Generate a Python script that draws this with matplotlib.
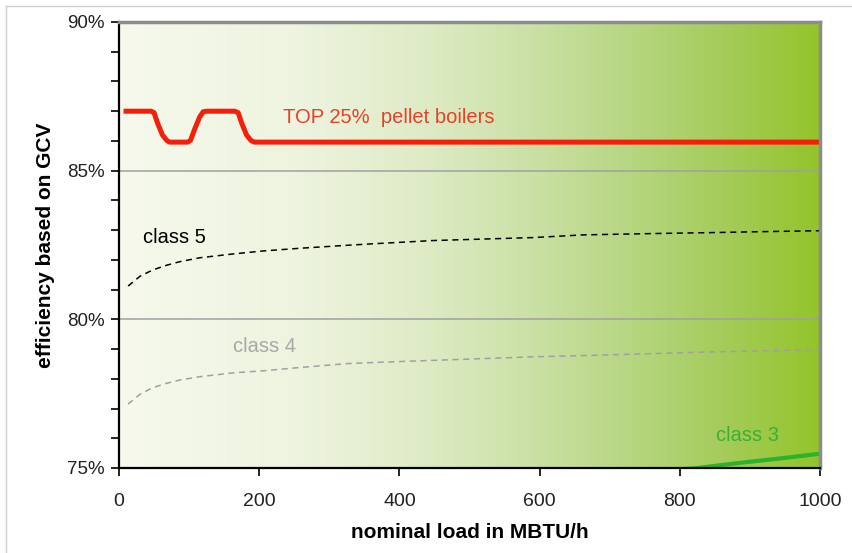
import numpy as np
import matplotlib
matplotlib.use("Agg")
import matplotlib.pyplot as plt
from matplotlib.colors import LinearSegmentedColormap
from matplotlib.lines import Line2D
from matplotlib.ticker import MultipleLocator, FuncFormatter

plt.rcParams['font.family'] = ['Liberation Sans', 'DejaVu Sans']

# ---- data ----
top_x = [10, 46, 50, 55, 62, 68, 72, 98, 102, 108, 115, 120, 125, 165, 170, 175, 182, 188, 193, 1000]
top_y = [87.0, 87.0, 86.95, 86.6, 86.2, 86.02, 85.96, 85.96, 86.02, 86.4, 86.8, 86.98, 87.0, 87.0, 86.95, 86.6, 86.2, 86.02, 85.96, 85.96]

c5_x = [13, 30, 48, 68, 87, 115, 163, 206, 258, 325, 354, 448, 520, 591, 662, 750, 853, 920, 1000]
c5_y = [81.12, 81.45, 81.66, 81.82, 81.94, 82.07, 82.2, 82.3, 82.39, 82.49, 82.53, 82.65, 82.7, 82.75, 82.84, 82.88, 82.92, 82.95, 82.98]

c4_x = [13, 30, 48, 68, 87, 115, 163, 206, 258, 325, 354, 448, 520, 591, 662, 750, 853, 920, 1000]
c4_y = [77.15, 77.48, 77.7, 77.85, 77.96, 78.07, 78.2, 78.27, 78.38, 78.51, 78.54, 78.62, 78.68, 78.74, 78.78, 78.84, 78.91, 78.94, 78.98]

c3_x = [700, 760, 800, 825, 860, 900, 950, 1000]
c3_y = [74.7, 74.85, 74.95, 75.0, 75.1, 75.21, 75.34, 75.48]

x_ticks = [0, 200, 400, 600, 800, 1000]
y_ticks = [75, 80, 85, 90]

labels = {
    "top": "TOP 25%  pellet boilers",
    "c5": "class 5",
    "c4": "class 4",
    "c3": "class 3",
}

# ---- figure ----
fig = plt.figure(figsize=(8.52, 5.53), dpi=100)
fig.patch.set_facecolor('white')
ax = fig.add_axes([119/852, 1-468/553, (820-119)/852, (468-22)/553])

ax.set_xlim(0, 1000)
ax.set_ylim(75, 90)

# background gradient
cmap = LinearSegmentedColormap.from_list('bg', [
    (0.0, '#f6f9ec'), (0.25, '#eef4df'), (0.42, '#e0ecc8'),
    (0.57, '#cde2aa'), (0.72, '#b8d784'), (0.86, '#a5cc5c'), (1.0, '#93c42a')])
grad = np.linspace(0, 1, 512).reshape(1, -1)
ax.imshow(grad, extent=[0, 1000, 75, 90], aspect='auto', cmap=cmap, zorder=0, interpolation='bicubic')

# gridlines
for yv in [80, 85]:
    ax.axhline(yv, color='#a0a0a0', lw=1.1, zorder=1)

ax.plot(c5_x, c5_y, color='black', lw=1.1, dashes=(4, 3), zorder=3)
ax.plot(c4_x, c4_y, color='#a0a0a0', lw=1.1, dashes=(4, 3), zorder=3)
ax.plot(c3_x, c3_y, color='#2db22d', lw=3.0, zorder=3, solid_capstyle='butt')
ax.plot(top_x, top_y, color='#f41e0a', lw=3.6, zorder=4, solid_joinstyle='round')

ax.text(234, 86.8, labels["top"], color='#e8402a', fontsize=14.5, va='center', ha='left')
ax.text(34, 82.75, labels["c5"], color='black', fontsize=14.5, va='center', ha='left')
ax.text(163, 79.1, labels["c4"], color='#a8a8a8', fontsize=14.5, va='center', ha='left')
ax.text(852, 76.1, labels["c3"], color='#3cb034', fontsize=14.5, va='center', ha='left')

# spines
ax.spines['top'].set_color('#8c8c8c')
ax.spines['top'].set_linewidth(2.5)
ax.spines['right'].set_color('#8c8c8c')
ax.spines['right'].set_linewidth(2.5)
ax.spines['left'].set_color('black')
ax.spines['left'].set_linewidth(1.6)
ax.spines['bottom'].set_color('black')
ax.spines['bottom'].set_linewidth(1.6)
for s in ax.spines.values():
    s.set_zorder(5)

ax.set_xticks(x_ticks)
ax.set_yticks(y_ticks)
ax.yaxis.set_minor_locator(MultipleLocator(1))
ax.yaxis.set_major_formatter(FuncFormatter(lambda v, p: f"{v:.0f}%"))
ax.tick_params(axis='both', which='both', direction='out', length=6, width=1.2, color='black',
               labelcolor='#222222')
ax.tick_params(axis='x', pad=12, labelsize=14)
ax.tick_params(axis='y', pad=4, labelsize=13.5)

ax.set_xlabel('nominal load in MBTU/h', fontsize=15, fontweight='bold', labelpad=9)
ax.set_ylabel('efficiency based on GCV', fontsize=15, fontweight='bold', labelpad=9)

# figure border (light gray) on top and left
fig.add_artist(Line2D([6/852, 6/852], [0, 1-6/553], transform=fig.transFigure, color='#d0d0d0', lw=1))
fig.add_artist(Line2D([6/852, 1], [1-6/553, 1-6/553], transform=fig.transFigure, color='#d0d0d0', lw=1))

fig.savefig('out.png', dpi=100)
